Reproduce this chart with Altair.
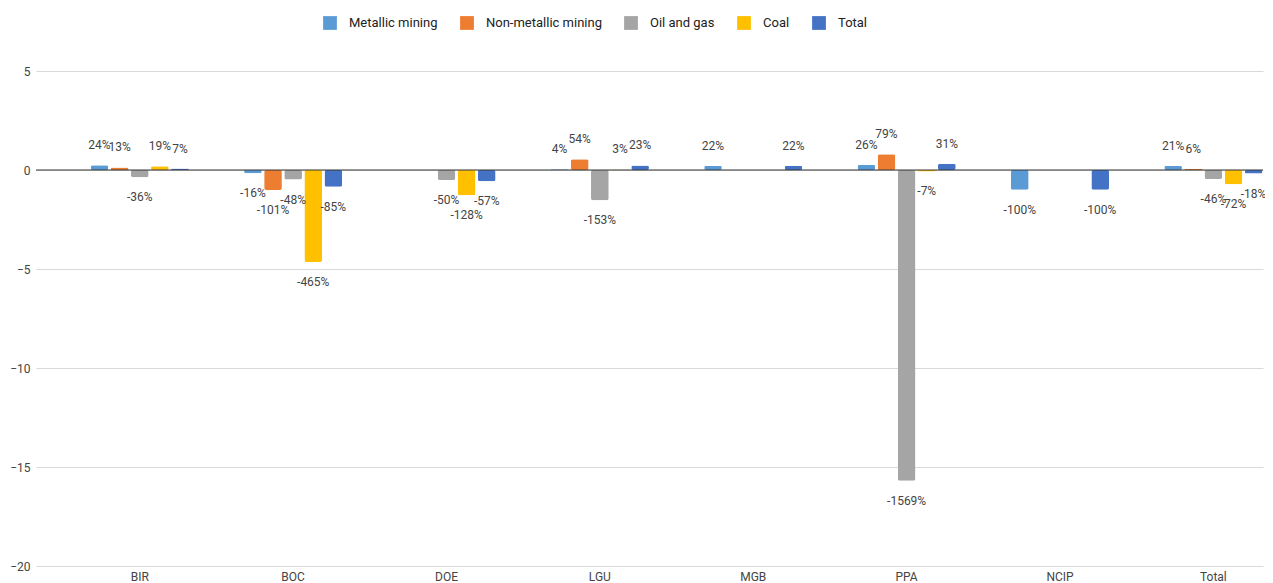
import altair as alt
import pandas as pd

categories = ["BIR", "BOC", "DOE", "LGU", "MGB", "PPA", "NCIP", "Total"]
series = ["Metallic mining", "Non-metallic mining", "Oil and gas", "Coal", "Total"]
metallic = [0.24, -0.16, None, 0.04, 0.22, 0.26, -1.00, 0.21]
nonmetallic = [0.13, -1.01, None, 0.54, None, 0.79, None, 0.06]
oilgas = [-0.36, -0.48, -0.50, -1.53, None, -15.69, None, -0.46]
coal = [0.19, -4.65, -1.28, 0.03, None, -0.07, None, -0.72]
total = [0.07, -0.85, -0.57, 0.23, 0.22, 0.31, -1.00, -0.18]
colors = ["#5B9BD5", "#ED7D31", "#A5A5A5", "#FFC000", "#4472C4"]
y_ticks = [-20, -15, -10, -5, 0, 5]

rows = []
for s, vals in zip(series, [metallic, nonmetallic, oilgas, coal, total]):
    for c, v in zip(categories, vals):
        if v is None:
            continue
        rows.append({"cat": c, "series": s, "value": v,
                     "label": f"{round(v * 100)}%", "pos": v >= 0})
df = pd.DataFrame(rows)

FONT = "Roboto"

x_scale = alt.Scale(paddingInner=0.36, paddingOuter=0.18, align=0.99)
x_enc = alt.X("cat:N", sort=categories, title=None, scale=x_scale,
              axis=alt.Axis(labelAngle=0, ticks=False, domain=False, grid=False,
                            labelFontSize=12, labelColor="#444", labelFont=FONT, labelPadding=5))
xoff = alt.XOffset("series:N", sort=series, scale=alt.Scale(paddingInner=0.12))
y_enc = alt.Y("value:Q", title=None,
              scale=alt.Scale(domain=[-20, 5], nice=False, zero=False),
              axis=alt.Axis(values=y_ticks, ticks=False, domain=False, grid=True,
                            gridColor="#d9d9d9", labelFontSize=12, labelColor="#444",
                            labelFont=FONT, labelPadding=6))
color_enc = alt.Color("series:N", sort=series,
                      scale=alt.Scale(domain=series, range=colors),
                      legend=alt.Legend(title=None, orient="none", direction="horizontal",
                                        legendX=287, legendY=-55, symbolType="square",
                                        symbolSize=190, symbolStrokeWidth=0,
                                        labelFontSize=13, labelColor="#222", labelFont=FONT,
                                        columnPadding=22, symbolOffset=0, labelOffset=12))

bars = alt.Chart(df).mark_bar(cornerRadius=2).encode(
    x=x_enc, xOffset=xoff, y=y_enc, color=color_enc
)

zero = alt.Chart(pd.DataFrame({"z": [0]})).mark_rule(color="#333", strokeWidth=1).encode(
    y=alt.Y("z:Q", scale=alt.Scale(domain=[-20, 5], nice=False, zero=False))
)

pos_text = alt.Chart(df).transform_filter("datum.pos").mark_text(
    dy=-20, fontSize=12, font=FONT, color="#444", baseline="middle"
).encode(x=alt.X("cat:N", sort=categories), xOffset=xoff, y="value:Q", text="label:N")

neg_text = alt.Chart(df).transform_filter("!datum.pos").mark_text(
    dy=20, fontSize=12, font=FONT, color="#444", baseline="middle"
).encode(x=alt.X("cat:N", sort=categories), xOffset=xoff, y="value:Q", text="label:N")

chart = alt.layer(bars, zero, pos_text, neg_text).properties(
    width=1227, height=495,
    autosize=alt.AutoSizeParams(type="none"),
    padding={"left": 28, "top": 63, "right": 2, "bottom": 22},
    background="white",
).configure_view(stroke=None)

chart.save("out.html", embed_options={"renderer": "svg", "actions": False})
